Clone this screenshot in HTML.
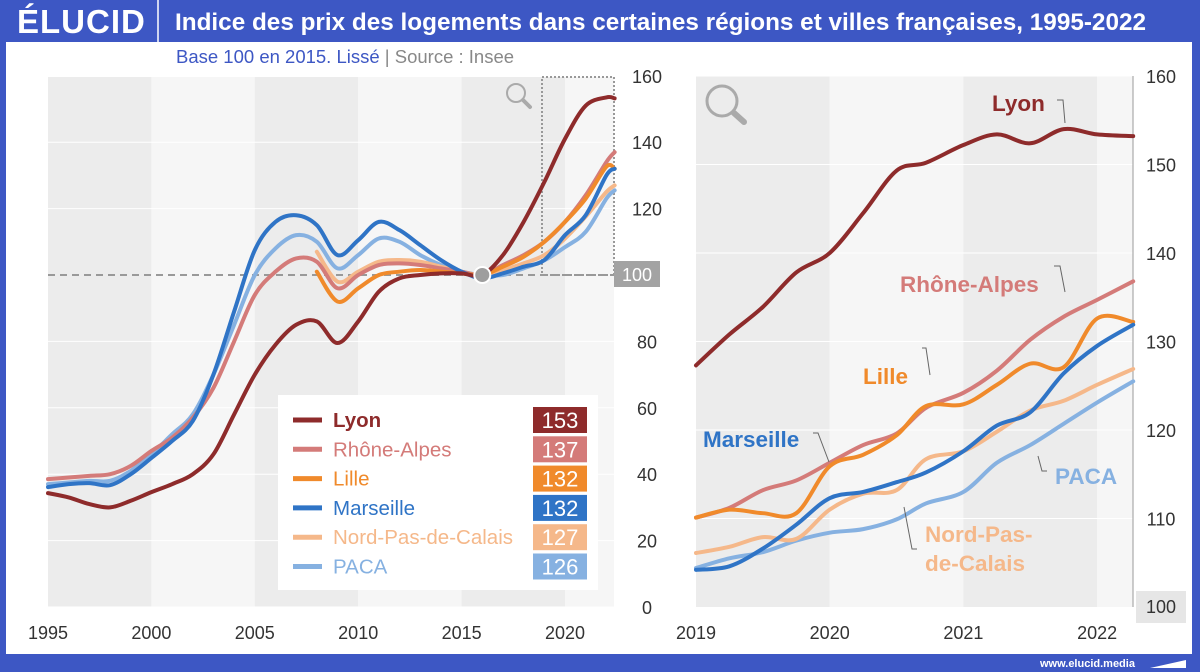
<!DOCTYPE html>
<html><head><meta charset="utf-8"><style>
body{margin:0;width:1200px;height:672px;overflow:hidden;background:#3d57c4;font-family:"Liberation Sans",sans-serif}
svg{display:block}
</style></head><body>
<svg id="c" width="1200" height="672" xmlns="http://www.w3.org/2000/svg">
<rect x="0" y="0" width="1200" height="672" fill="#3d57c4"/>
<rect x="6" y="42" width="1186" height="612" fill="#ffffff"/>
<text x="17" y="33" fill="#fff" font-size="33" font-weight="bold" letter-spacing="1">ÉLUCID</text>
<line x1="158" y1="0" x2="158" y2="42" stroke="#fff" stroke-width="1.5"/>
<text x="175" y="30" fill="#fff" font-size="24.3" font-weight="bold">Indice des prix des logements dans certaines régions et villes françaises, 1995-2022</text>
<text x="176" y="63" font-size="18.5"><tspan fill="#3d57c4">Base 100 en 2015. Lissé</tspan><tspan fill="#888">  |  Source : Insee</tspan></text>
<text x="1040" y="667" fill="#fff" font-size="11" font-weight="bold">www.elucid.media</text>
<path d="M1150 668 L1186 660 L1186 668 Z" fill="#fff"/>
<g id="L"></g><g id="R"></g>
</svg>
<script>
const NS="http://www.w3.org/2000/svg";
const names=["Lyon","Rhône-Alpes","Lille","Marseille","Nord-Pas-de-Calais","PACA"];
const colors=["#8e2b2b","#d47b79","#f08a2b","#2f74c6","#f5b88a","#86b1e1"];
const finals=[153,137,132,132,127,126];
const yearsL=[1995,1996,1997,1998,1999,2000,2001,2002,2003,2004,2005,2006,2007,2008,2009,2010,2011,2012,2013,2014,2015,2016,2017,2018,2019,2020,2021,2022,2022.4];
const lyonL=[34.3,33,31,30,32,34.6,37,40,46,58,70,79,85,86,79.5,86,95,99,100,100.5,100.5,100,106,116,128,141,151,153.5,153.2];
const rhoneL=[38.5,39,39.5,40,42.5,47,51,57,66,80,94,101,105,104,96,100,103,103.5,103,102,101,100,103,106,110,116,124,134,137];
const lilleL=[null,null,null,null,null,null,null,null,null,null,null,null,null,101,92,96,100,101,101.5,101,100.5,100,102.5,105.5,110,116,123,132.6,132];
const marsL=[36.1,37,37.3,36.7,40,44.9,50,56,70,89,107.5,116,118,115,106,110.5,116,113.5,109,104.5,101,99,100.5,102.5,104.5,112,118,130,132];
const nordL=[null,null,null,null,null,null,null,null,null,null,null,null,null,107,98,101,104,104.5,104,102.5,101,100,101.5,103.5,106,111,117.6,125,127];
const pacaL=[37,37.5,38,38,41,46,52,58,70,85,100,108,112,110,102,106,111,110,106,103,101,100,100,102,104.4,108.4,113,123,125.5];
const seriesL=[lyonL,rhoneL,lilleL,marsL,nordL,pacaL];
const yearsR=[2019,2019.25,2019.5,2019.75,2020,2020.25,2020.5,2020.72,2021,2021.25,2021.5,2021.75,2022,2022.27];
const lyonR=[127.3,130.8,133.9,137.8,140,144.5,149.3,150.2,152.2,153.4,152.4,154,153.4,153.2];
const rhoneR=[110.1,111.2,113.2,114.3,116.3,118.3,119.6,122.5,124.2,126.7,130.2,132.8,134.7,136.8];
const lilleR=[110.1,111,110.6,110.6,115.9,117.2,119.4,122.7,122.9,125.1,127.5,127.1,132.6,132.2];
const marsR=[104.2,104.6,106.6,109.3,112.3,113,114.1,115.2,117.6,120.5,122,126.4,129.5,131.9];
const nordR=[106.1,106.8,107.9,107.7,111,112.8,113.2,116.7,117.6,119.8,122.2,123.3,125.1,126.9];
const pacaR=[104.4,105.5,106.2,107.5,108.4,108.8,109.9,111.7,113,116.3,118.3,120.7,123.1,125.5];
const seriesR=[lyonR,rhoneR,lilleR,marsR,nordR,pacaR];
const ticksL=[0,20,40,60,80,120,140,160];
const xTicksL=[1995,2000,2005,2010,2015,2020];
const ticksR=[110,120,130,140,150,160];
const xTicksR=[2019,2020,2021,2022];

function el(t,a,p){const e=document.createElementNS(NS,t);for(const k in a)e.setAttribute(k,a[k]);p.appendChild(e);return e;}
function smooth(pts){let d="M"+pts[0][0]+" "+pts[0][1];for(let i=0;i<pts.length-1;i++){const p0=pts[i-1]||pts[i],p1=pts[i],p2=pts[i+1],p3=pts[i+2]||p2;
d+=" C"+(p1[0]+(p2[0]-p0[0])/6)+" "+(p1[1]+(p2[1]-p0[1])/6)+" "+(p2[0]-(p3[0]-p1[0])/6)+" "+(p2[1]-(p3[1]-p1[1])/6)+" "+p2[0]+" "+p2[1];}return d;}

// LEFT
const L=document.getElementById('L');
const xL=y=>48+(y-1995)*20.68, yL=v=>607-v*3.32;
for(let i=0;i<6;i++){const b=el('rect',{x:xL(1995+5*i),y:77,width:Math.min(xL(2000+5*i),614)-xL(1995+5*i),height:530,fill:i%2?'#f6f6f6':'#ececec'},L);
}
[0,20,40,60,80,120,140,160].forEach(v=>{const g=el('line',{x1:48,x2:614,y1:yL(v),y2:yL(v),stroke:'#fff','stroke-width':1},L);});
ticksL.forEach(v=>{const t=el('text',{x:647,y:yL(v)+7,'text-anchor':'middle','font-size':18,fill:'#333'},L);t.textContent=v;});
xTicksL.forEach(v=>{const t=el('text',{x:xL(v),y:639,'text-anchor':'middle','font-size':18,fill:'#333'},L);t.textContent=v;});
const bl=el('line',{x1:48,x2:614,y1:yL(100),y2:yL(100),stroke:'#999','stroke-width':2,'stroke-dasharray':'7 5'},L);

const zb=el('rect',{x:542,y:77,width:72,height:yL(100)-77,fill:'none',stroke:'#999','stroke-width':2,'stroke-dasharray':'2 2'},L);

const b100=el('rect',{x:614,y:261,width:46,height:26,fill:'#a3a3a3'},L);
const t100=el('text',{x:637,y:281,'text-anchor':'middle','font-size':18,fill:'#fff'},L);t100.textContent='100';
[5,4,1,2,3,0].forEach(order=>{const data=seriesL[order];const pts=[];yearsL.forEach((y,i)=>{if(data[i]!=null)pts.push([xL(y),yL(data[i])]);});
const p=el('path',{d:smooth(pts),fill:'none',stroke:colors[order],'stroke-width':4,'stroke-linecap':'round'},L);});
const dot=el('circle',{cx:xL(2016),cy:yL(100),r:8,fill:'#9e9e9e',stroke:'#fff','stroke-width':2},L);
const mg=el('g',{fill:'none',stroke:'#aaa'},L);
el('circle',{cx:516,cy:93,r:9,'stroke-width':2},mg);el('line',{x1:523,y1:100,x2:530,y2:107,'stroke-width':4,'stroke-linecap':'round'},mg);
// legend
const lg=el('g',{},L);
el('rect',{x:278,y:395,width:320,height:195,fill:'#fff'},lg);
names.forEach((n,i)=>{const y=420+i*29.3;const g=el('g',{},lg);
el('line',{x1:293,x2:322,y1:y,y2:y,stroke:colors[i],'stroke-width':5},g);
const t=el('text',{x:333,y:y+7,'font-size':20.5,fill:colors[i],'font-weight':i==0?'bold':'normal'},g);t.textContent=n;
el('rect',{x:533,y:y-13,width:54,height:26,fill:colors[i]},g);
const v=el('text',{x:560,y:y+8,'text-anchor':'middle','font-size':22,fill:'#fff'},g);v.textContent=finals[i];});

// RIGHT
const R=document.getElementById('R');
const xR=y=>696+(y-2019)*133.7, yR=v=>607-(v-100)*8.85;
for(let i=0;i<4;i++){const x0=xR(2019+i),x1=Math.min(xR(2020+i),1133);const b=el('rect',{x:x0,y:76,width:x1-x0,height:531,fill:i%2?'#f6f6f6':'#ececec'},R);
}
ticksR.forEach(v=>{const g=el('line',{x1:696,x2:1133,y1:yR(v),y2:yR(v),stroke:'#fff','stroke-width':1},R);
const t=el('text',{x:1161,y:yR(v)+7,'text-anchor':'middle','font-size':18,fill:'#333'},R);t.textContent=v;});
const ax=el('line',{x1:1133,x2:1133,y1:76,y2:607,stroke:'#999','stroke-width':1},R);
const rb=el('rect',{x:1136,y:591,width:50,height:32,fill:'#e6e6e6'},R);
const rt=el('text',{x:1161,y:613,'text-anchor':'middle','font-size':18,fill:'#333'},R);rt.textContent='100';
xTicksR.forEach(v=>{const t=el('text',{x:xR(v),y:639,'text-anchor':'middle','font-size':18,fill:'#333'},R);t.textContent=v;});
const mg2=el('g',{fill:'none',stroke:'#aaa'},R);
el('circle',{cx:722,cy:101,r:15,'stroke-width':3},mg2);el('line',{x1:734,y1:113,x2:744,y2:122,'stroke-width':6,'stroke-linecap':'round'},mg2);
[5,4,1,2,3,0].forEach(o=>{const pts=yearsR.map((y,i)=>[xR(y),yR(seriesR[o][i])]);
const p=el('path',{d:smooth(pts),fill:'none',stroke:colors[o],'stroke-width':4,'stroke-linecap':'round'},R);});
const labs=[["Lyon",992,111,"M1057 100 L1063 100 L1065 123"],["Rhône-Alpes",900,292,"M1054 266 L1060 266 L1065 292"],["Lille",863,384,"M922 348 L926 348 L930 375"],["Marseille",703,447,"M813 433 L818 433 L829 462"],["PACA",1055,484,"M1038 456 L1042 471 L1047 471"],["Nord-Pas-",925,542,null],["de-Calais",925,571,"M904 507 L912 549 L917 549"]];
const lc=[0,1,2,3,5,4,4];
labs.forEach((l,i)=>{const t=el('text',{x:l[1],y:l[2],'font-size':22.5,'font-weight':'bold',fill:colors[lc[i]]},R);t.textContent=l[0];
if(l[3]){const p=el('path',{d:l[3],fill:'none',stroke:'#666','stroke-width':1},R);}});
</script>
</body></html>
